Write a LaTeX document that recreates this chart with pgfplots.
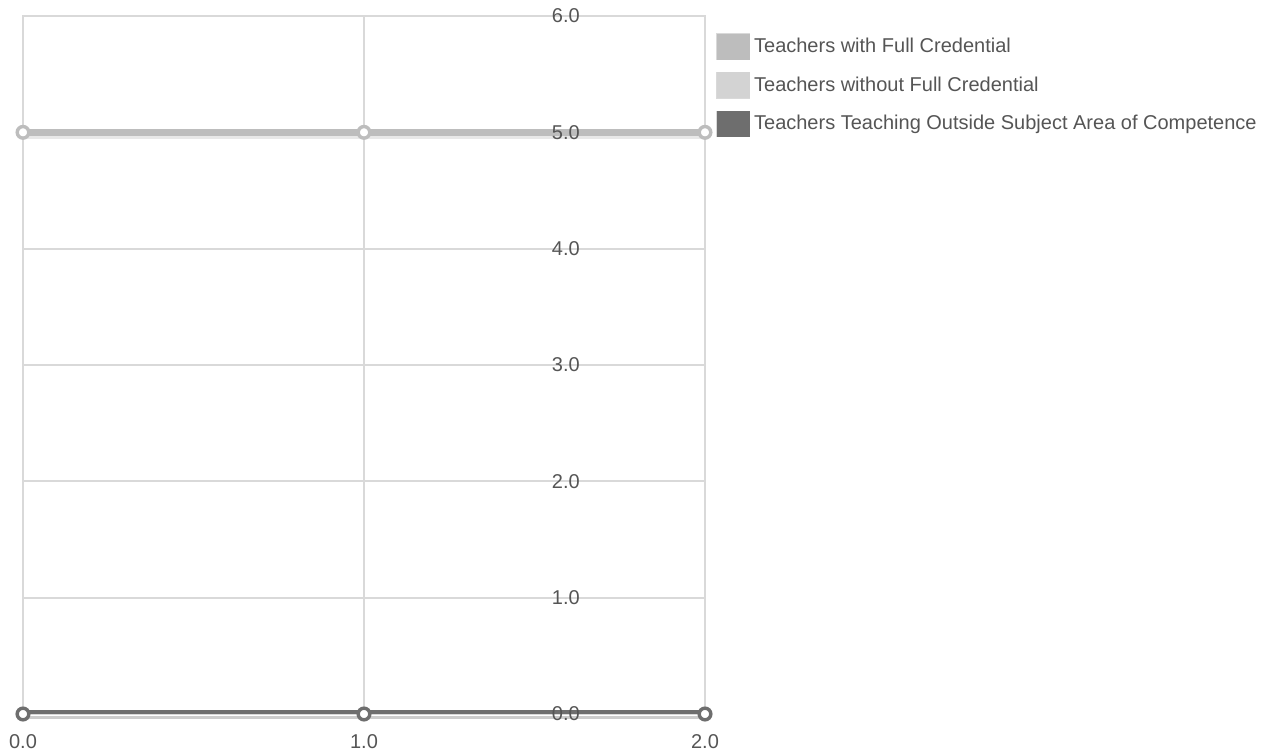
\documentclass[border=0pt]{standalone}
\usepackage{fontspec}
\setmainfont{Liberation Sans}
\usepackage{pgfplots}
\pgfplotsset{compat=1.18}
\definecolor{cA}{HTML}{BDBDBD}
\definecolor{cB}{HTML}{D3D3D3}
\definecolor{cC}{HTML}{6E6E6E}
\definecolor{gridc}{HTML}{D9D9D9}
\definecolor{txt}{HTML}{555555}
\pgfplotsset{
  mymark/.style={mark=*, mark size=2.9pt, mark options={fill=white, draw=#1, line width=1.7pt}},
  myshadow/.style={draw=#1, line width=2.5pt, opacity=0.35, yshift=-2.3pt},
  mylegend/.style={legend image code/.code={\draw[draw=gridc, fill=white, line width=0.9pt] (0pt,-6.2pt) rectangle (16pt,6.2pt); \fill[#1] (1.4pt,-4.8pt) rectangle (14.6pt,4.8pt);}},
}
\begin{document}
\begin{tikzpicture}
\path (0,0) rectangle (635pt,377.5pt);
\begin{axis}[
  at={(11.5pt,20.5pt)}, anchor=south west,
  scale only axis, width=341pt, height=349pt,
  xmin=0, xmax=2, ymin=0, ymax=6,
  xtick={0,1,2}, ytick={0,1,2,3,4,5,6}, yticklabels={},
  grid=major, major grid style={gridc, line width=0.9pt},
  axis line style={gridc, line width=0.9pt},
  tick style={draw=none},
  tick label style={text=txt, font=\fontsize{10}{12}\selectfont},
  /pgf/number format/assume math mode=true,
  /pgf/number format/.cd, fixed, fixed zerofill, precision=1, /pgfplots/.cd,
  xticklabel style={anchor=center, yshift=-14pt},
  clip mode=individual,
  legend style={at={(1.016,0.9756)}, anchor=north west, draw=none, fill=none,
    font=\fontsize{10}{12}\selectfont, text=txt, row sep=6pt, inner xsep=0pt, inner ysep=0pt},
  legend cell align=left,
]
\addplot[forget plot, myshadow=cA] coordinates {(0,5) (1,5) (2,5)};
\addplot[forget plot, myshadow=cC] coordinates {(0,0) (1,0) (2,0)};
\addplot[cA, line width=3.5pt, mymark=cA, mylegend=cA] coordinates {(0,5) (1,5) (2,5)};
\addlegendentry{Teachers with Full Credential}
\addplot[cB, line width=3.5pt, mymark=cB, mylegend=cB] coordinates {(0,0) (1,0) (2,0)};
\addlegendentry{Teachers without Full Credential}
\addplot[cC, line width=3.5pt, mymark=cC, mylegend=cC] coordinates {(0,0) (1,0) (2,0)};
\addlegendentry{Teachers Teaching Outside Subject Area of Competence}
\pgfplotsinvokeforeach{0,1,2,3,4,5,6}{
  \node[text=txt, font=\fontsize{10}{12}\selectfont, anchor=center, inner sep=0pt] at (rel axis cs:0.796,#1/6) {#1.0};
}
\end{axis}
\end{tikzpicture}
\end{document}
